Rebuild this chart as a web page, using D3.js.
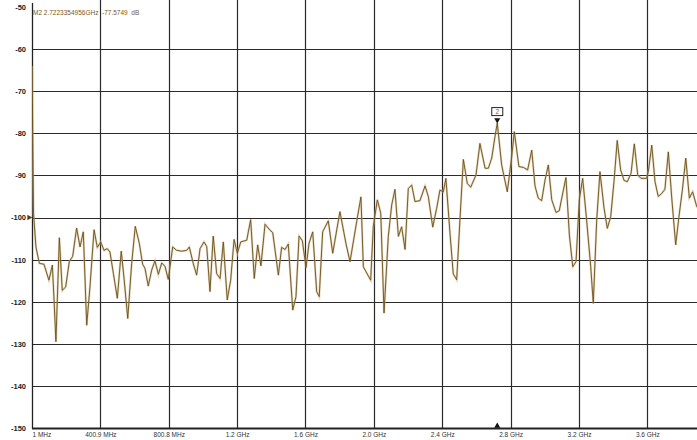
<!DOCTYPE html>
<html>
<head>
<meta charset="utf-8">
<script src="https://cdn.jsdelivr.net/npm/d3@7"></script>
<style>
  html, body { margin: 0; padding: 0; background: #fff; }
  svg { display: block; }
  text { font-family: "Liberation Sans", Arial, sans-serif; }
</style>
</head>
<body>
<script>
// Transmission magnitude sweep, 1 MHz .. 4 GHz, 10 dB/div
const freqMHz = [
  1, 10, 24, 44, 71, 100, 120, 130, 141, 161, 178, 198, 219, 239, 262, 282, 301, 321, 340, 364,
  383, 403, 422, 441, 457, 477, 500, 523, 539, 561, 584, 605, 629, 648, 662, 681, 701, 720, 740, 760,
  779, 798, 824, 847, 877, 906, 921, 944, 964, 984, 1007, 1023, 1042, 1061, 1081, 1101, 1120, 1143, 1163, 1183,
  1202, 1222, 1257, 1280, 1301, 1321, 1340, 1364, 1393, 1409, 1442, 1461, 1481, 1500, 1526, 1545, 1563, 1582, 1604, 1621,
  1643, 1666, 1681, 1701, 1734, 1760, 1802, 1838, 1861, 1900, 1925, 1939, 1982, 1997, 2021, 2041, 2060, 2085, 2105, 2124,
  2144, 2163, 2183, 2202, 2222, 2241, 2270, 2300, 2319, 2345, 2368, 2387, 2407, 2422, 2446, 2465, 2485, 2504, 2524, 2547,
  2567, 2598, 2621, 2651, 2670, 2690, 2709, 2722.3, 2748, 2781, 2807, 2822, 2849, 2875, 2900, 2924, 2943, 2962, 2982, 3002,
  3021, 3041, 3066, 3085, 3109, 3124, 3144, 3164, 3183, 3202, 3222, 3245, 3269, 3284, 3304, 3323, 3347, 3366, 3386, 3405,
  3424, 3444, 3464, 3483, 3505, 3524, 3544, 3563, 3596, 3606, 3626, 3645, 3664, 3684, 3703, 3723, 3743, 3766, 3785, 3805,
  3825, 3846, 3865, 3889, 3910
];
const magDB = [
  -64.0, -99.0, -107.0, -110.9, -111.1, -114.9, -111.3, -119.6, -129.5, -104.8, -117.3, -116.5, -110.5, -109.2, -102.5, -107.0, -103.4, -125.6, -116.5, -102.9,
  -107.1, -105.8, -107.8, -107.4, -108.2, -113.3, -119.2, -108.0, -114.3, -124.0, -110.9, -102.1, -106.2, -111.1, -112.1, -116.3, -112.5, -110.3, -113.5, -110.8,
  -111.6, -114.7, -107.0, -107.8, -108.0, -107.8, -107.0, -110.9, -113.7, -107.4, -105.8, -106.9, -117.6, -104.4, -113.3, -114.5, -105.8, -119.6, -114.9, -105.2,
  -108.5, -105.8, -105.4, -100.5, -114.5, -106.5, -111.5, -101.6, -103.0, -103.6, -113.7, -107.1, -107.6, -106.3, -122.0, -118.8, -104.4, -105.5, -111.9, -106.2,
  -103.4, -117.6, -118.8, -103.4, -100.8, -108.5, -98.6, -106.3, -110.5, -101.0, -95.1, -111.7, -114.9, -102.2, -95.8, -99.0, -122.7, -104.5, -97.0, -93.3,
  -104.5, -102.2, -107.6, -93.1, -92.3, -96.2, -96.0, -92.5, -95.0, -102.3, -97.8, -93.5, -93.9, -90.7, -103.8, -113.4, -114.8, -100.6, -86.2, -91.9,
  -92.8, -89.9, -82.4, -88.3, -88.3, -85.9, -80.8, -77.5749, -87.5, -93.9, -85.5, -79.6, -87.9, -88.1, -88.7, -84.0, -92.5, -95.4, -96.0, -91.1,
  -87.5, -95.8, -98.8, -98.4, -93.5, -90.5, -104.1, -111.7, -110.5, -95.8, -90.7, -100.6, -111.7, -120.4, -100.6, -89.1, -97.8, -102.6, -99.8, -91.5,
  -81.7, -88.7, -91.2, -91.5, -89.5, -82.5, -89.9, -90.7, -90.7, -89.1, -82.8, -91.5, -95.0, -94.3, -93.3, -84.4, -95.4, -106.5, -99.8, -93.5,
  -85.9, -95.4, -93.9, -97.4, -98.5
];

const xTickMHz   = [1, 400.9, 800.8, 1200.7, 1600.6, 2000.5, 2400.4, 2800.3, 3200.2, 3600.1];
const xTickLabel = ["1 MHz", "400.9 MHz", "800.8 MHz", "1.2 GHz", "1.6 GHz", "2.0 GHz", "2.4 GHz", "2.8 GHz", "3.2 GHz", "3.6 GHz"];
const yTickDB    = [-50, -60, -70, -80, -90, -100, -110, -120, -130, -140, -150];

const markerFreqMHz = 2722.3354956;
const markerDB = -77.5749;
const markerName = "2";
const markerReadout = "M2 2.7223354956GHz  -77.5749  dB";
const refLevelDB = -100;

const W = 697, H = 440;
const plotLeft = 32, plotBottom = 428, plotTop = 7;
const divW = 68.37;

const x = d3.scaleLinear().domain([1, 4000]).range([plotLeft, plotLeft + divW * 10]);
const y = d3.scaleLinear().domain([-150, -50]).range([plotBottom, plotTop]);

const svg = d3.select("body").append("svg").attr("width", W).attr("height", H);

// level labels
const gy = svg.append("g").attr("transform", `translate(${plotLeft},0)`)
  .call(d3.axisLeft(y).tickValues(yTickDB).tickSize(0).tickPadding(6).tickFormat(d => d));
gy.select(".domain").remove();
gy.selectAll(".tick text")
  .attr("font-size", 7.5).attr("font-weight", "bold").attr("fill", "#222");

// horizontal grid
svg.append("g").selectAll("line")
  .data(yTickDB.filter(d => d > -150 && d < -50))
  .join("line")
  .attr("x1", plotLeft).attr("x2", W)
  .attr("y1", d => Math.round(y(d)) + 0.5).attr("y2", d => Math.round(y(d)) + 0.5)
  .attr("stroke", "#2a2a2a").attr("stroke-width", 1.2);

// vertical grid
svg.append("g").selectAll("line")
  .data(xTickMHz.slice(1))
  .join("line")
  .attr("x1", d => Math.round(x(d)) + 0.5).attr("x2", d => Math.round(x(d)) + 0.5)
  .attr("y1", 0).attr("y2", plotBottom)
  .attr("stroke", "#2a2a2a").attr("stroke-width", 1.2);

// frame: left edge and bottom edge
svg.append("line").attr("x1", plotLeft + 0.5).attr("x2", plotLeft + 0.5).attr("y1", 3).attr("y2", plotBottom + 1)
  .attr("stroke", "#222").attr("stroke-width", 1.3);
svg.append("line").attr("x1", plotLeft).attr("x2", W)
  .attr("y1", Math.round(y(-150)) + 0.5).attr("y2", Math.round(y(-150)) + 0.5)
  .attr("stroke", "#222").attr("stroke-width", 1.8);

// frequency labels
const gx = svg.append("g").attr("transform", `translate(0,${plotBottom})`)
  .call(d3.axisBottom(x).tickValues(xTickMHz).tickSize(0).tickPadding(4)
    .tickFormat((d, i) => xTickLabel[i]));
gx.select(".domain").remove();
gx.selectAll(".tick text").attr("font-size", 6.5).attr("fill", "#333")
  .attr("text-anchor", (d, i) => i === 0 ? "start" : "middle");

// trace
const data = freqMHz.map((f, i) => ({ f, v: magDB[i] }));
const line = d3.line().x(d => x(d.f)).y(d => y(d.v));
svg.append("defs").append("clipPath").attr("id", "plotClip")
  .append("rect").attr("x", plotLeft).attr("y", 0).attr("width", W - plotLeft).attr("height", plotBottom);
svg.append("path")
  .datum(data)
  .attr("clip-path", "url(#plotClip)")
  .attr("fill", "none")
  .attr("stroke", "#c9b48a").attr("stroke-width", 2.2).attr("stroke-opacity", 0.55)
  .attr("d", line);
svg.append("path")
  .datum(data)
  .attr("clip-path", "url(#plotClip)")
  .attr("fill", "none")
  .attr("stroke", "#6e4f14").attr("stroke-width", 0.9)
  .attr("stroke-linejoin", "round")
  .attr("d", line);

// reference level pointer
svg.append("path")
  .attr("d", d3.symbol().type(d3.symbolTriangle).size(14)())
  .attr("transform", `translate(${plotLeft - 3},${y(refLevelDB)}) rotate(90)`)
  .attr("fill", "#5a3a10");

// marker flag above the peak
const mx = x(markerFreqMHz), my = y(markerDB);
svg.append("path")
  .attr("d", d3.symbol().type(d3.symbolTriangle).size(16)())
  .attr("transform", `translate(${mx},${my - 3}) rotate(180)`)
  .attr("fill", "#111");
svg.append("rect").attr("x", mx - 5.5).attr("y", my - 15.5).attr("width", 11).attr("height", 8)
  .attr("fill", "#fff").attr("stroke", "#222").attr("stroke-width", 1);
svg.append("text").attr("x", mx).attr("y", my - 9).attr("text-anchor", "middle")
  .attr("font-size", 6.5).attr("fill", "#666").text(markerName);

// marker position pointer on the frequency axis
svg.append("path")
  .attr("d", d3.symbol().type(d3.symbolTriangle).size(16)())
  .attr("transform", `translate(${mx},${plotBottom - 2})`)
  .attr("fill", "#111");

// marker readout
svg.append("text").attr("x", plotLeft + 1).attr("y", 15)
  .attr("font-size", 6.5).attr("fill", "#7a5a18")
  .style("white-space", "pre")
  .text(markerReadout);
</script>
</body>
</html>
